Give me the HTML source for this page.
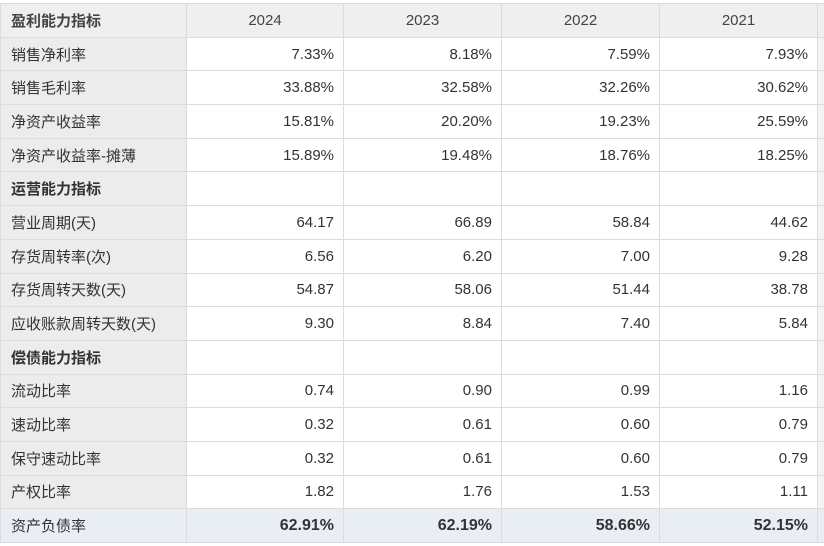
<!DOCTYPE html>
<html><head><meta charset="utf-8"><style>
body{margin:0;width:824px;height:546px;background:#fff;overflow:hidden;font-family:"Liberation Sans","Noto Sans CJK SC",sans-serif;}
table{position:absolute;left:0;top:3px;border-collapse:collapse;table-layout:fixed;width:830px;}
td{height:32.7px;padding:0 9px;border:1px solid #dcdcdc;font-size:15px;color:#333;text-align:right;white-space:nowrap;}
td.l{background:#ececec;text-align:left;padding-left:10px;}
tr.h td{background:#efefef;text-align:center;color:#444;}
tr.h td.l{text-align:left;}
tr.h td.l,tr.s td.l{font-weight:bold;}
tr.f td{background:#e9eef5;font-weight:bold;font-size:16px;}
tr.f td.l{font-weight:normal;font-size:15px;}
td.e{background:#f3f3f3;padding:0;}
</style></head><body>
<table>
<colgroup><col style="width:186px"><col style="width:157px"><col style="width:158px"><col style="width:158px"><col style="width:158px"><col style="width:13px"></colgroup>
<tr class="h"><td class="l">盈利能力指标</td><td>2024</td><td>2023</td><td>2022</td><td>2021</td><td class="e"></td></tr>
<tr><td class="l">销售净利率</td><td>7.33%</td><td>8.18%</td><td>7.59%</td><td>7.93%</td><td class="e"></td></tr>
<tr><td class="l">销售毛利率</td><td>33.88%</td><td>32.58%</td><td>32.26%</td><td>30.62%</td><td class="e"></td></tr>
<tr><td class="l">净资产收益率</td><td>15.81%</td><td>20.20%</td><td>19.23%</td><td>25.59%</td><td class="e"></td></tr>
<tr><td class="l">净资产收益率-摊薄</td><td>15.89%</td><td>19.48%</td><td>18.76%</td><td>18.25%</td><td class="e"></td></tr>
<tr class="s"><td class="l">运营能力指标</td><td></td><td></td><td></td><td></td><td class="e"></td></tr>
<tr><td class="l">营业周期(天)</td><td>64.17</td><td>66.89</td><td>58.84</td><td>44.62</td><td class="e"></td></tr>
<tr><td class="l">存货周转率(次)</td><td>6.56</td><td>6.20</td><td>7.00</td><td>9.28</td><td class="e"></td></tr>
<tr><td class="l">存货周转天数(天)</td><td>54.87</td><td>58.06</td><td>51.44</td><td>38.78</td><td class="e"></td></tr>
<tr><td class="l">应收账款周转天数(天)</td><td>9.30</td><td>8.84</td><td>7.40</td><td>5.84</td><td class="e"></td></tr>
<tr class="s"><td class="l">偿债能力指标</td><td></td><td></td><td></td><td></td><td class="e"></td></tr>
<tr><td class="l">流动比率</td><td>0.74</td><td>0.90</td><td>0.99</td><td>1.16</td><td class="e"></td></tr>
<tr><td class="l">速动比率</td><td>0.32</td><td>0.61</td><td>0.60</td><td>0.79</td><td class="e"></td></tr>
<tr><td class="l">保守速动比率</td><td>0.32</td><td>0.61</td><td>0.60</td><td>0.79</td><td class="e"></td></tr>
<tr><td class="l">产权比率</td><td>1.82</td><td>1.76</td><td>1.53</td><td>1.11</td><td class="e"></td></tr>
<tr class="f"><td class="l">资产负债率</td><td>62.91%</td><td>62.19%</td><td>58.66%</td><td>52.15%</td><td class="e"></td></tr>
</table>
</body></html>
